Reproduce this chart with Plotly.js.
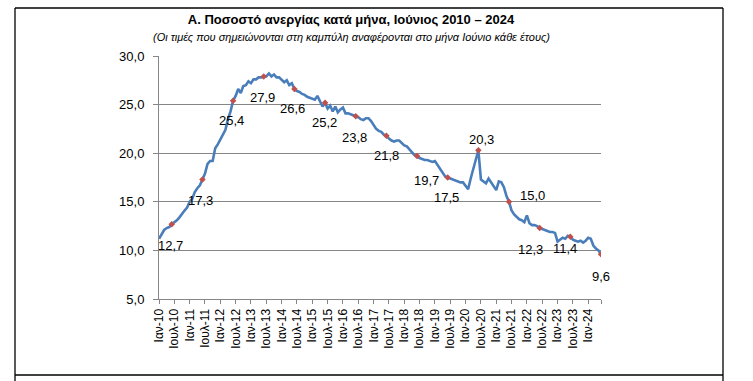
<!DOCTYPE html>
<html>
<head>
<meta charset="utf-8">
<script src="https://cdn.plot.ly/plotly-3.0.1.min.js"></script>
<style>html,body{margin:0;padding:0;background:#fff;}#chart{width:753px;height:381px;}</style>
</head>
<body>
<div id="chart"></div>
<script>
// Monthly unemployment rate (%), Jan 2010 – Jun 2024
const years = [2010,2011,2012,2013,2014,2015,2016,2017,2018,2019,2020,2021,2022,2023,2024];
const monthAbbr = ['Ιαν','Φεβ','Μαρ','Απρ','Μαϊ','Ιουν','Ιουλ','Αυγ','Σεπ','Οκτ','Νοε','Δεκ'];
const v2010 = [11.2, 11.6, 12.1, 12.3, 12.4, 12.7, 12.9, 13.1, 13.4, 13.8, 14.1, 14.4];
const v2011 = [15.0, 15.3, 16.0, 16.4, 16.7, 17.3, 17.9, 18.9, 19.2, 19.2, 20.5, 20.9];
const v2012 = [21.4, 21.8, 22.4, 23.5, 24.3, 25.4, 25.9, 26.6, 26.2, 26.9, 27.0, 27.4];
const v2013 = [27.2, 27.6, 27.6, 27.8, 27.8, 27.9, 27.9, 28.2, 27.9, 28.1, 27.8, 27.8];
const v2014 = [27.5, 27.3, 27.5, 27.0, 27.2, 26.6, 26.4, 26.3, 26.1, 26.0, 25.8, 25.7];
const v2015 = [25.6, 25.5, 25.9, 25.3, 24.8, 25.2, 24.6, 24.9, 24.3, 24.8, 24.2, 24.5];
const v2016 = [24.7, 24.1, 24.1, 24.0, 23.9, 23.8, 23.7, 23.5, 23.4, 23.6, 23.6, 23.3];
const v2017 = [22.9, 22.5, 22.3, 22.2, 21.9, 21.8, 21.5, 21.3, 21.2, 21.3, 21.3, 21.0];
const v2018 = [20.8, 20.7, 20.4, 20.2, 19.8, 19.7, 19.5, 19.4, 19.3, 19.3, 19.2, 19.1];
const v2019 = [19.2, 18.8, 18.3, 17.9, 17.6, 17.5, 17.4, 17.3, 17.2, 17.1, 17.0, 17.0];
const v2020 = [16.7, 16.3, 17.4, 18.4, 19.4, 20.3, 17.3, 17.1, 16.9, 17.4, 17.0, 16.6];
const v2021 = [16.2, 17.1, 17.0, 16.5, 15.6, 15.0, 14.1, 13.7, 13.4, 13.2, 13.1, 12.9];
const v2022 = [13.6, 12.8, 12.6, 12.6, 12.5, 12.3, 12.2, 12.1, 12.0, 11.9, 11.9, 11.8];
const v2023 = [10.9, 11.1, 11.3, 11.2, 11.5, 11.4, 11.1, 11.0, 10.9, 11.0, 10.8, 11.0];
const v2024 = [11.3, 11.2, 10.5, 10.2, 10.0, 9.6];
const yearValues = [v2010,v2011,v2012,v2013,v2014,v2015,v2016,v2017,v2018,v2019,v2020,v2021,v2022,v2023,v2024];

// Tick labels shown every six months
const tickLabels = ['Ιαν-10','Ιουλ-10','Ιαν-11','Ιουλ-11','Ιαν-12','Ιουλ-12','Ιαν-13','Ιουλ-13','Ιαν-14','Ιουλ-14',
  'Ιαν-15','Ιουλ-15','Ιαν-16','Ιουλ-16','Ιαν-17','Ιουλ-17','Ιαν-18','Ιουλ-18','Ιαν-19','Ιουλ-19',
  'Ιαν-20','Ιουλ-20','Ιαν-21','Ιουλ-21','Ιαν-22','Ιουλ-22','Ιαν-23','Ιουλ-23','Ιαν-24'];

// Build category axis and series
const categories = [], values = [], juneX = [], juneY = [];
yearValues.forEach((arr, yi) => {
  const yy = String(years[yi]).slice(2);
  arr.forEach((v, m) => {
    const c = monthAbbr[m] + '-' + yy;
    categories.push(c); values.push(v);
    if (m === 5) { juneX.push(c); juneY.push(v); }
  });
});
const tickVals = tickLabels.slice();
const tickText = tickLabels.slice();
tickVals.push(categories[categories.length - 1]);
tickText.push('');

// label offsets (px) for the June data labels
const labelShift = [[-1,-21],[-2,-21],[-2,-20],[-1,-21],[-2,-19],[-1,-20],[-1,-21],[0,-20],
                    [9,-24],[-1,-20],[3,11],[23,6],[-9,-21],[-5,-12],[0,-22]];

const fmt = v => v.toFixed(1).replace('.', ',');
const annotations = juneX.map((c, k) => ({
  x: c, y: juneY[k], xref: 'x', yref: 'y', text: fmt(juneY[k]), showarrow: false,
  xshift: labelShift[k][0], yshift: labelShift[k][1],
  font: {family: 'Liberation Sans, Arial, sans-serif', size: 13, color: '#000'}
}));
annotations.push({
  text: '(Οι τιμές που σημειώνονται στη καμπύλη αναφέρονται στο μήνα Ιούνιο κάθε έτους)',
  xref: 'paper', yref: 'paper', x: (351 - 159) / 442, y: (299 - 37) / 243, xanchor: 'center', yanchor: 'middle',
  showarrow: false, font: {family: 'Liberation Sans, Arial, sans-serif', size: 11, color: '#000', style: 'italic'}
});

const px = p => (p - 159) / 442, py = p => (299 - p) / 243;
const frame = {color: '#000', width: 1.3};
const shapes = [
  {type: 'line', xref: 'paper', yref: 'paper', x0: px(15), x1: px(723), y0: py(8), y1: py(8), line: frame},
  {type: 'line', xref: 'paper', yref: 'paper', x0: px(15), x1: px(15), y0: py(8), y1: py(381), line: frame},
  {type: 'line', xref: 'paper', yref: 'paper', x0: px(723), x1: px(723), y0: py(8), y1: py(381), line: frame},
  {type: 'line', xref: 'paper', yref: 'paper', x0: px(15), x1: px(723), y0: py(375), y1: py(375), line: frame}
];

const traces = [
  {x: categories, y: values, type: 'scatter', mode: 'lines', line: {color: '#4A7EBB', width: 2.6}, hoverinfo: 'skip'},
  {x: juneX, y: juneY, type: 'scatter', mode: 'markers', marker: {symbol: 'diamond', size: 5, color: '#C0504D'}, hoverinfo: 'skip'}
];

const layout = {
  width: 753, height: 381,
  margin: {l: 159, r: 152, t: 56, b: 82},
  paper_bgcolor: '#fff', plot_bgcolor: '#fff',
  showlegend: false,
  separators: ',.',
  title: {text: '<b>Α. Ποσοστό ανεργίας κατά μήνα, Ιούνιος 2010 – 2024</b>', x: 351 / 753, xref: 'container', xanchor: 'center',
          y: 1 - 19 / 381, yref: 'container', yanchor: 'middle',
          font: {family: 'Liberation Sans, Arial, sans-serif', size: 13, color: '#000'}},
  xaxis: {type: 'category', categoryorder: 'array', categoryarray: categories, range: [0, categories.length - 1],
          tickmode: 'array', tickvals: tickVals, ticktext: tickText, tickangle: -90,
          ticks: 'outside', ticklen: 4, tickcolor: '#868686', showgrid: false, zeroline: false,
          showline: true, linecolor: '#868686', linewidth: 1,
          tickfont: {family: 'Liberation Sans, Arial, sans-serif', size: 12, color: '#000'}},
  yaxis: {range: [5, 30], dtick: 5, tick0: 5, tickformat: '.1f', ticks: 'outside', ticklen: 5, tickcolor: '#868686',
          showgrid: true, gridcolor: '#868686', gridwidth: 1, zeroline: false, showline: true, linecolor: '#868686',
          ticklabelstandoff: 6,
          tickfont: {family: 'Liberation Sans, Arial, sans-serif', size: 13, color: '#000'}},
  annotations: annotations,
  shapes: shapes
};

Plotly.newPlot('chart', traces, layout, {staticPlot: true, displayModeBar: false});
</script>
</body>
</html>
